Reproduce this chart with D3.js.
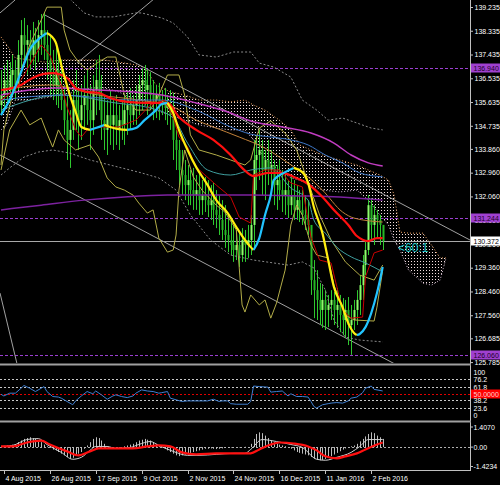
<!DOCTYPE html>
<html>
<head>
<meta charset="utf-8">
<script src="https://cdn.jsdelivr.net/npm/d3@7"></script>
<style>
  body { margin: 0; background: #000; }
  svg { display: block; }
  text { font-family: "Liberation Sans", Arial, sans-serif; }
</style>
</head>
<body>
<div id="chart"></div>
<script>
// daily bars (index 0 = 3 Aug 2015)
var barOpen0 = 135.52;
var barHigh = [
  136.85,137.04,137.23,137.15,137.42,137.23,137.98,138.74,138.82,138.55,
  138.36,138.67,138.44,138.74,138.97,139.01,138.36,138.17,137.61,137.80,
  137.42,137.23,136.28,135.90,135.33,136.47,136.85,136.09,136.28,136.66,
  136.85,136.28,136.66,137.23,137.42,136.66,135.90,135.71,136.09,135.71,
  135.90,135.52,135.71,135.90,136.09,136.17,135.90,136.28,136.66,136.92,
  137.04,136.85,136.77,136.47,136.28,136.36,136.09,136.17,135.90,136.09,
  135.98,134.58,134.20,133.82,133.44,133.25,133.06,133.14,132.87,132.98,
  132.68,132.80,132.68,132.49,132.57,132.30,132.11,131.92,131.73,131.36,
  131.17,130.98,130.79,130.71,130.86,130.79,130.98,131.36,134.20,134.39,
  134.58,134.20,133.82,134.20,133.82,133.44,133.25,133.44,133.06,132.87,
  132.68,132.87,132.68,132.49,132.30,132.30,132.11,131.92,130.60,129.65,
  129.27,128.78,128.70,128.51,128.33,128.51,128.44,128.59,128.33,128.21,
  128.14,128.25,127.95,128.14,128.51,129.08,129.84,130.41,132.11,132.00,
  131.73,131.55,131.36,130.98
];
var barLow = [
  135.14,135.33,135.52,135.71,135.90,135.71,136.09,136.85,137.23,136.66,
  136.85,137.04,136.85,137.15,137.42,137.23,136.47,135.90,135.71,135.52,
  135.41,135.33,134.39,133.44,133.14,134.20,134.58,133.82,134.20,134.58,
  134.77,133.82,134.39,135.14,135.33,134.20,133.82,133.63,134.01,133.82,
  134.01,133.82,134.20,134.01,134.39,134.58,134.77,134.77,135.14,135.33,
  135.52,135.14,135.33,134.95,135.03,134.95,135.14,134.95,134.77,134.58,
  133.44,133.06,132.49,132.11,131.92,131.73,131.73,131.55,131.55,131.36,
  131.36,131.47,131.28,131.17,130.98,130.86,130.60,130.41,130.11,129.95,
  129.84,129.58,129.65,129.39,129.58,129.58,129.73,129.84,130.03,132.30,
  132.68,132.11,131.92,132.49,132.11,131.73,131.55,131.92,131.47,131.36,
  131.24,131.36,131.17,131.17,131.09,130.98,130.79,130.60,128.33,127.45,
  127.38,127.19,127.08,127.00,127.11,127.38,127.19,127.08,126.92,126.81,
  126.70,126.43,126.06,127.00,127.19,127.57,128.14,129.08,129.84,130.41,
  130.22,130.48,130.22,130.03
];
var barClose = [
  135.90,136.47,136.09,136.66,136.85,136.28,137.42,138.17,137.80,137.98,
  137.42,137.98,137.61,138.17,138.36,137.80,137.23,136.66,136.28,136.85,
  136.09,135.71,134.95,134.20,134.58,135.71,135.33,134.95,135.52,135.90,
  135.33,134.95,136.09,136.47,135.90,134.95,134.58,135.14,134.77,135.14,
  134.58,134.95,134.77,135.33,135.52,135.14,135.52,135.71,136.28,136.47,
  136.09,136.28,135.90,135.71,135.90,135.52,135.71,135.41,135.52,135.14,
  134.20,133.82,133.06,132.87,132.49,132.68,132.30,132.11,132.30,131.92,
  132.11,131.92,131.73,131.92,131.55,131.36,131.17,130.79,130.60,130.41,
  130.22,130.03,130.22,129.84,130.41,130.22,130.41,130.98,133.44,133.63,
  133.82,133.06,133.44,133.06,133.25,132.49,132.68,132.30,132.11,132.30,
  131.73,132.11,131.55,131.92,131.55,131.36,131.17,130.98,128.89,128.51,
  128.14,127.76,128.14,127.76,127.95,128.14,127.76,127.95,127.57,127.38,
  127.76,127.19,127.38,127.76,128.14,128.70,129.46,130.03,131.73,130.98,
  131.36,131.17,130.98,130.37
];

// fast colour-changing average [bar, price]
var hmaPts = [[0,135.14],[3,135.71],[7,136.77],[10,137.61],[14,138.10],[16,138.25],[19,137.91],[21,137.04],
  [24,135.90],[26,135.26],[28,134.69],[31,134.58],[33,134.65],[36,134.77],[38,134.69],[41,134.61],[44,134.58],
  [47,134.65],[50,134.95],[54,135.33],[56,135.56],[58,135.60],[60,135.22],[62,134.58],[65,133.82],[68,133.17],
  [72,132.49],[75,131.92],[79,131.43],[82,130.90],[85,130.41],[87,130.14],[88,130.03],[90,130.48],[92,131.36],
  [94,132.11],[95,132.68],[99,132.98],[102,133.14],[105,132.98],[107,132.57],[109,131.66],[112,130.67],
  [114,129.65],[116,128.63],[119,127.87],[121,127.26],[123,126.89],[124,126.81],[125,126.85],[127,127.11],
  [129,127.64],[131,128.40],[133,129.39]];
var maRed = [[0,136.09],[7,136.28],[11,136.55],[15,136.70],[18,136.73],[23,136.55],[26,136.17],[30,136.02],
  [34,135.98],[38,135.79],[44,135.64],[51,135.60],[58,135.60],[62,135.07],[68,134.58],[74,134.20],[80,133.63],
  [84,133.14],[88,132.83],[93,132.95],[98,132.95],[102,132.80],[107,132.53],[112,132.04],[116,131.55],
  [121,130.98],[124,130.56],[128,130.37],[131,130.48],[133,130.48]];
var kijunRed = [[0,135.71],[5,136.09],[8,136.66],[12,137.42],[14,137.80],[17,137.42],[21,136.28],[23,135.45],
  [26,134.58],[28,134.31],[30,134.58],[34,134.69],[41,134.69],[47,134.95],[52,135.52],[57,135.71],[60,135.07],
  [62,134.31],[65,133.93],[68,133.17],[75,132.49],[80,132.04],[83,131.28],[87,131.05],[88,132.87],[92,133.06],
  [97,133.06],[101,132.57],[105,132.42],[108,130.52],[111,129.65],[115,129.54],[119,127.76],[122,127.45],
  [126,127.49],[127,129.01],[130,129.92],[133,130.03]];
var maMagenta = [[0,135.90],[10,136.09],[19,136.17],[34,136.09],[46,136.02],[56,135.90],[68,135.60],[80,135.22],
  [87,134.92],[98,134.69],[108,134.46],[116,134.08],[122,133.63],[128,133.33],[133,133.21]];
var maPurple = [[0,131.55],[14,131.73],[29,131.92],[43,132.04],[58,132.11],[87,132.11],[104,132.08],[118,132.04],[133,131.92]];
var maBlue = [[0,135.71],[21,135.90],[45,135.71],[56,135.71],[68,135.33],[80,134.69],[87,134.42],[94,134.31],
  [101,134.20],[107,134.01],[113,133.63],[119,133.33],[125,132.95],[133,132.80]];
var maBrown = [[0,136.09],[17,136.28],[34,135.90],[48,135.71],[60,135.45],[68,134.95],[74,134.69],[83,134.31],
  [92,133.89],[100,133.33],[107,132.80],[112,132.30],[119,131.47],[123,131.24],[133,131.09]];
var maTeal = [[0,135.33],[21,135.90],[40,135.60],[52,135.41],[60,135.03],[65,134.08],[72,133.06],[80,132.87],
  [87,133.06],[94,133.14],[101,132.38],[107,131.92],[109,131.17],[113,130.67],[117,130.14],[122,129.77],
  [127,129.54],[133,129.20]];
var bandUpper = [[0,133.25],[1,134.58],[4,135.90],[7,136.85],[10,137.80],[14,138.74],[16,139.23],[21,139.23],
  [22,138.36],[24,137.61],[27,137.15],[30,136.85],[34,137.15],[37,137.34],[40,137.34],[41,136.85],[43,135.90],
  [47,135.33],[52,135.33],[55,135.90],[58,136.66],[62,136.66],[64,135.90],[66,134.39],[69,133.82],[75,133.63],
  [80,133.44],[85,133.25],[87,133.44],[90,134.65],[94,134.92],[99,134.46],[103,133.82],[108,132.30],
  [111,131.36],[115,130.41],[120,129.58],[125,129.08],[130,128.89],[133,129.46]];
var bandLower = [[0,133.06],[3,134.58],[7,135.33],[10,134.77],[14,135.03],[16,134.46],[18,133.93],[20,134.58],
  [22,134.20],[26,133.82],[31,134.01],[34,133.55],[37,132.76],[40,132.42],[43,132.30],[46,132.11],[48,131.81],
  [51,131.43],[53,131.55],[55,130.48],[58,129.95],[60,130.03],[61,130.60],[62,132.30],[64,133.82],[67,132.80],
  [70,132.30],[75,131.73],[78,131.47],[82,130.79],[84,127.95],[85,127.68],[87,128.33],[90,127.95],[92,128.14],
  [94,127.45],[96,128.02],[99,129.27],[101,130.98],[103,131.73],[105,131.36],[108,130.22],[110,129.84],
  [114,129.73],[116,128.70],[120,127.57],[123,127.38],[130,127.34],[131,127.87],[133,129.27]];
var envUpper = [[19,140.07],[29,139.01],[33,138.86],[39,138.86],[47,139.01],[49,139.01],[56,138.82],[60,138.63],
  [65,138.10],[69,137.42],[75,137.34],[81,137.53],[87,137.53],[90,137.11],[95,136.96],[101,136.58],[105,135.71],
  [110,135.33],[114,134.95],[119,135.03],[124,134.84],[129,134.65],[133,134.58]];
var envLower = [[0,132.87],[3,133.14],[8,133.55],[13,133.74],[18,133.82],[24,133.70],[31,133.44],[38,133.25],
  [45,133.06],[49,132.95],[55,132.76],[61,132.30],[66,131.36],[73,130.41],[80,129.84],[88,129.65],[95,129.54],
  [100,129.46],[105,129.58],[109,129.35],[113,128.52],[116,127.38],[120,126.73],[125,126.62],[133,126.55]];

// ichimoku cloud
var cloudBar = [0,2,5,10,15,21,26,31,36,41,47,50,54,59,64,69,75,80,85,88,92,97,101,104,108,112,118,124,128,132,135,137,139,142,147,150,153,155];
var cloudTop = [138.10,137.80,137.30,137.23,137.15,137.23,137.23,137.23,137.23,137.15,137.04,136.96,136.28,136.02,135.90,
  135.71,135.71,135.64,135.71,135.52,135.33,134.95,134.58,134.01,133.82,133.63,133.44,133.25,133.06,132.87,132.68,
  132.11,130.71,130.67,130.67,130.22,129.73,129.73];
var cloudBot = [134.58,134.77,135.71,135.71,135.79,135.90,136.02,136.17,136.17,136.02,135.71,135.52,135.33,135.14,134.95,
  134.77,134.65,134.58,134.58,134.20,133.44,133.06,132.76,132.68,132.49,132.30,132.23,132.30,131.92,131.36,130.98,
  130.41,130.03,129.27,128.78,128.70,128.89,129.70];

// trend lines [bar1, price1, bar2, price2]
var trendLines = [[15.3,138.93,163.4,130.41],[-0.35,133.63,137.3,125.71],[-0.35,139.01,4.9,139.50],
  [26.5,137.11,55.4,139.73],[-0.35,128.40,5.6,125.71]];

var priceTicks = [139.235,138.335,137.435,136.535,135.635,134.735,133.860,132.960,132.060,131.160,130.260,129.360,128.460,127.560,126.685,125.785];
var markLevels = [136.940, 131.244, 126.060];
var lastPrice = 130.372;

var rsiPts = [[0,49],[1,46],[3,51],[5,51],[7,60],[8,65],[10,60],[12,54],[14,60],[15,63],[16,54],[18,45],[20,44],
  [21,42],[23,36],[25,30],[26,37],[28,46],[30,54],[32,50],[33,55],[35,48],[37,40],[39,46],[40,48],[42,45],[44,43],
  [46,46],[47,51],[49,57],[51,55],[53,54],[55,51],[56,52],[58,54],[59,42],[61,39],[63,36],[65,37],[67,37],[69,37],
  [72,37],[74,40],[76,36],[77,37],[79,37],[80,32],[82,31],[84,31],[86,31],[87,36],[88,64],[90,63],[93,62],[94,53],
  [96,54],[98,55],[100,46],[101,50],[103,45],[105,45],[107,44],[108,36],[109,27],[110,24],[112,30],[114,32],
  [115,33],[117,34],[119,33],[121,37],[122,42],[124,44],[126,52],[127,60],[129,64],[130,58],[133,55]];
var rsiLevels = [76.2, 61.8, 38.2, 23.6];
var rsiLabels = ["100", "76.2", "61.8", "50.0000", "38.2", "23.6", "0"];
var rsiLabelVals = [100, 76.2, 61.8, 50, 38.2, 23.6, 0];

var oscHist = [0.05,0.08,0.1,0.12,0.15,0.18,
  0.3,0.4,0.5,0.55,0.6,0.55,0.5,0.4,0.3,
  0.15,0.05,-0.05,-0.15,-0.2,-0.3,
  -0.4,-0.5,-0.6,-0.7,-0.65,-0.5,-0.4,-0.3,
  -0.1,0.1,0.3,0.5,0.6,0.55,0.4,
  0.2,0.05,-0.05,-0.1,-0.08,-0.05,0,0.05,0.1,0.15,
  0.2,0.3,0.4,0.45,0.5,0.45,0.4,0.3,0.2,
  0.1,0,-0.1,-0.2,-0.3,-0.4,-0.5,-0.55,
  -0.5,-0.45,-0.4,-0.35,-0.3,-0.25,-0.2,-0.15,
  -0.1,-0.1,-0.08,-0.1,-0.12,-0.1,-0.08,-0.05,-0.05,-0.03,0,0,-0.02,0,0.02,0,
  0.2,0.5,0.8,0.9,0.85,0.7,0.55,0.4,0.3,
  0.2,0.15,0.1,0.05,0,-0.1,-0.2,-0.3,-0.35,
  -0.4,-0.45,-0.5,-0.6,-0.7,-0.75,-0.8,-0.78,-0.72,-0.65,
  -0.55,-0.45,-0.35,-0.25,-0.15,-0.08,0,0.05,
  0.1,0.2,0.35,0.5,0.65,0.8,0.9,0.85,0.7,0.6,0.5];
var oscMain = [[0,0.04],[4,0.10],[9,0.46],[13,0.52],[16,0.16],[21,-0.32],[25,-0.74],[28,-0.62],[31,-0.20],[33,0.04],
  [37,0.04],[40,-0.08],[45,-0.02],[48,0.16],[52,0.34],[55,0.10],[60,-0.26],[65,-0.50],[69,-0.50],[75,-0.44],
  [81,-0.38],[85,-0.38],[87,-0.14],[91,0.46],[96,0.34],[101,0.16],[105,-0.02],[110,-0.74],[113,-0.80],
  [117,-0.62],[122,-0.32],[125,0.04],[128,0.46],[133,0.46]];
var oscSignal = [[0,0.04],[4,0.04],[9,0.28],[14,0.40],[17,0.16],[23,-0.26],[27,-0.50],[31,-0.26],[34,-0.08],
  [39,-0.08],[46,-0.08],[51,0.04],[55,0.10],[59,0.04],[63,-0.32],[68,-0.44],[75,-0.38],[81,-0.38],[87,-0.38],
  [90,-0.14],[94,0.16],[97,0.28],[102,0.22],[107,0.04],[110,-0.20],[113,-0.56],[117,-0.68],[120,-0.56],
  [124,-0.38],[127,-0.14],[131,0.16],[133,0.28]];
var oscLabels = ["1.4070", "0.00", "-1.4234"];

var dateTicks = [1, 17, 33, 49, 65, 81, 97, 113, 129];
var dateLabels = ["4 Aug 2015", "26 Aug 2015", "17 Sep 2015", "9 Oct 2015", "2 Nov 2015", "24 Nov 2015", "16 Dec 2015", "11 Jan 2016", "2 Feb 2016"];

var W = 500, H = 485, right = 470, fs = 7;

var x = d3.scaleLinear().domain([0, 133]).range([1, 1 + 133 * 2.87]);
var y = d3.scaleLinear().domain([125.785, 139.235]).range([362.1, 7]);
var yRsi = d3.scaleLinear().domain([0, 100]).range([421.3, 366.2]);
var yOsc = d3.scaleLinear().domain([-1.4234, 1.4070]).range([470.5, 424]);

var svg = d3.select("#chart").append("svg").attr("width", W).attr("height", H);
svg.append("rect").attr("width", W).attr("height", H).attr("fill", "#000");

var defs = svg.append("defs");
defs.append("clipPath").attr("id", "clipMain").append("rect").attr("width", right).attr("height", 363);
defs.append("clipPath").attr("id", "clipRsi").append("rect").attr("y", 366).attr("width", right).attr("height", 55);
defs.append("clipPath").attr("id", "clipOsc").append("rect").attr("y", 423).attr("width", right).attr("height", 47);
var pat = defs.append("pattern").attr("id", "dots").attr("patternUnits", "userSpaceOnUse").attr("width", 3).attr("height", 3);
pat.append("rect").attr("width", 1).attr("height", 1).attr("fill", "#f2dede");

var main = svg.append("g").attr("clip-path", "url(#clipMain)");

// cloud
var cloud = cloudBar.map(function(b, k){ return {b: b, a: cloudTop[k], z: cloudBot[k]}; });
main.append("path").datum(cloud)
  .attr("d", d3.area().x(function(d){ return x(d.b); }).y0(function(d){ return y(d.z); }).y1(function(d){ return y(d.a); }))
  .attr("fill", "url(#dots)");
main.append("path").datum(cloud)
  .attr("d", d3.line().x(function(d){ return x(d.b); }).y(function(d){ return y(d.a); }))
  .attr("fill", "none").attr("stroke", "#f4a460").attr("stroke-dasharray", "1,2");
main.append("path").datum(cloud)
  .attr("d", d3.line().x(function(d){ return x(d.b); }).y(function(d){ return y(d.z); }))
  .attr("fill", "none").attr("stroke", "#d8bfd8").attr("stroke-dasharray", "1,2");

// levels
main.selectAll(".mark").data(markLevels).enter().append("line")
  .attr("x1", 0).attr("x2", right)
  .attr("y1", function(d){ return Math.round(y(d)) + 0.5; }).attr("y2", function(d){ return Math.round(y(d)) + 0.5; })
  .attr("stroke", "#9b3fd0").attr("stroke-dasharray", "3,2");
main.append("line").attr("x1", 0).attr("x2", right)
  .attr("y1", Math.round(y(lastPrice)) + 0.5).attr("y2", Math.round(y(lastPrice)) + 0.5)
  .attr("stroke", "#a8a8a8");

// trend lines
main.selectAll(".trend").data(trendLines).enter().append("line")
  .attr("x1", function(d){ return x(d[0]); }).attr("y1", function(d){ return y(d[1]); })
  .attr("x2", function(d){ return x(d[2]); }).attr("y2", function(d){ return y(d[3]); })
  .attr("stroke", "#a0a0a0").attr("stroke-width", 1);

// bars
var bars = barClose.map(function(c, i){
  return {i: i, o: i ? barClose[i - 1] : barOpen0, h: barHigh[i], l: barLow[i], c: c};
});
main.selectAll(".wick").data(bars).enter().append("line")
  .attr("x1", function(d){ return Math.round(x(d.i)) + 0.5; }).attr("x2", function(d){ return Math.round(x(d.i)) + 0.5; })
  .attr("y1", function(d){ return y(d.h); }).attr("y2", function(d){ return y(d.l); })
  .attr("stroke", "#2fc82f");
main.selectAll(".body").data(bars).enter().append("rect")
  .attr("x", function(d){ return Math.round(x(d.i)) - 0.5; })
  .attr("width", 2)
  .attr("y", function(d){ return y(Math.max(d.o, d.c)); })
  .attr("height", function(d){ return Math.max(1, Math.abs(y(d.o) - y(d.c))); })
  .attr("fill", function(d){ return d.c >= d.o ? "#8cff6a" : "#26b826"; });

function drawLine(g, pts, sc, color, width, curve, dash) {
  g.append("path").datum(pts)
    .attr("d", d3.line().x(function(d){ return x(d[0]); }).y(function(d){ return sc(d[1]); }).curve(curve || d3.curveLinear))
    .attr("fill", "none").attr("stroke", color).attr("stroke-width", width)
    .attr("stroke-dasharray", dash || null);
}

drawLine(main, envUpper, y, "#8a8a8a", 1, d3.curveLinear, "2,2");
drawLine(main, envLower, y, "#8a8a8a", 1, d3.curveLinear, "2,2");
drawLine(main, bandUpper, y, "#b3ad48", 1);
drawLine(main, bandLower, y, "#b3ad48", 1);
drawLine(main, maTeal, y, "#3f9f9f", 1, d3.curveMonotoneX);
drawLine(main, maBrown, y, "#c0803a", 1, d3.curveMonotoneX);
drawLine(main, maBlue, y, "#3f78c8", 1, d3.curveMonotoneX);
drawLine(main, maMagenta, y, "#c03cc0", 1.5, d3.curveMonotoneX);
drawLine(main, maPurple, y, "#7d22a0", 1.5, d3.curveMonotoneX);
drawLine(main, kijunRed, y, "#c80000", 1);
drawLine(main, maRed, y, "#ff1010", 2.2, d3.curveMonotoneX);

// colour-changing average: cyan rising, yellow falling
var runs = [];
for (var k = 1; k < hmaPts.length; k++) {
  var up = hmaPts[k][1] >= hmaPts[k - 1][1];
  var last = runs[runs.length - 1];
  if (last && last.up === up) last.pts.push(hmaPts[k]);
  else runs.push({up: up, pts: [hmaPts[k - 1], hmaPts[k]]});
}
runs.forEach(function(r){
  drawLine(main, r.pts, y, r.up ? "#22c4ff" : "#ffee10", 2.2, d3.curveMonotoneX);
});

main.append("text").attr("x", 398).attr("y", 251.5).attr("font-size", 12)
  .attr("fill", "#22c8c8").text("<60:1");

// rsi panel
var rsiG = svg.append("g").attr("clip-path", "url(#clipRsi)");
rsiG.selectAll(".lvl").data(rsiLevels).enter().append("line")
  .attr("x1", 0).attr("x2", right)
  .attr("y1", function(d){ return Math.round(yRsi(d)) + 0.5; }).attr("y2", function(d){ return Math.round(yRsi(d)) + 0.5; })
  .attr("stroke", "#c8c8c8").attr("stroke-dasharray", "2,2");
rsiG.append("line").attr("x1", 0).attr("x2", right)
  .attr("y1", Math.round(yRsi(50)) + 0.5).attr("y2", Math.round(yRsi(50)) + 0.5)
  .attr("stroke", "#e00000").attr("stroke-dasharray", "2,2");
drawLine(rsiG, rsiPts, yRsi, "#3f7fd0", 1);

// oscillator panel
var oscG = svg.append("g").attr("clip-path", "url(#clipOsc)");
oscG.append("line").attr("x1", 0).attr("x2", right)
  .attr("y1", Math.round(yOsc(0)) + 0.5).attr("y2", Math.round(yOsc(0)) + 0.5)
  .attr("stroke", "#b0b0b0").attr("stroke-dasharray", "2,2");
oscG.selectAll(".hist").data(oscHist).enter().append("line")
  .attr("x1", function(d, i){ return Math.round(x(i)) + 0.5; }).attr("x2", function(d, i){ return Math.round(x(i)) + 0.5; })
  .attr("y1", yOsc(0)).attr("y2", function(d){ return yOsc(d); })
  .attr("stroke", "#bdbdbd");
drawLine(oscG, oscMain, yOsc, "#d0d0d0", 1, d3.curveMonotoneX);
drawLine(oscG, oscSignal, yOsc, "#ff1010", 2.2, d3.curveMonotoneX);

// frame
svg.append("line").attr("x1", right + 0.5).attr("x2", right + 0.5).attr("y1", 0).attr("y2", 471).attr("stroke", "#c0c0c0");
[364.5, 421.5].forEach(function(v){
  svg.append("rect").attr("x", 0).attr("y", v - 1).attr("width", right + 1).attr("height", 2).attr("fill", "#a0a0a0");
});
svg.append("line").attr("x1", 0).attr("x2", right + 1).attr("y1", 470.5).attr("y2", 470.5).attr("stroke", "#c0c0c0");

// price axis
var axis = svg.append("g").attr("transform", "translate(" + (right + 1) + ",0)")
  .call(d3.axisRight(y).tickValues(priceTicks).tickFormat(d3.format(".3f")).tickSize(2).tickPadding(1.5));
axis.select(".domain").remove();
axis.selectAll("line").attr("stroke", "#c0c0c0");
axis.selectAll("text").attr("fill", "#fff").attr("font-size", fs).attr("font-family", "Liberation Sans, Arial, sans-serif");

function tag(v, yy, bg, fg, label) {
  svg.append("rect").attr("x", right + 1).attr("y", Math.round(yy) - 4.5).attr("width", 29).attr("height", 9).attr("fill", bg);
  svg.append("text").attr("x", right + 3.5).attr("y", Math.round(yy) + 2.5).attr("font-size", fs)
    .attr("fill", fg).text(label);
}
markLevels.forEach(function(v){ tag(v, y(v), "#a040d0", "#1a0028", d3.format(".3f")(v)); });
tag(lastPrice, y(lastPrice), "#ffffff", "#000", d3.format(".3f")(lastPrice));

// rsi labels
rsiLabelVals.forEach(function(v, k){
  var yy = Math.min(Math.max(yRsi(v), 372), 415.5);
  if (v === 50) { tag(v, yy, "#ff0000", "#ffd0d0", rsiLabels[k]); return; }
  svg.append("text").attr("x", right + 3.5).attr("y", yy + 2.5).attr("font-size", fs).attr("fill", "#fff").text(rsiLabels[k]);
});

// osc labels
[1.4070, 0, -1.4234].forEach(function(v, k){
  var yy = Math.min(Math.max(yOsc(v), 427), 466.5);
  svg.append("line").attr("x1", right + 1).attr("x2", right + 3).attr("y1", yy).attr("y2", yy).attr("stroke", "#c0c0c0");
  svg.append("text").attr("x", right + 3.5).attr("y", yy + 2.5).attr("font-size", fs).attr("fill", "#fff").text(oscLabels[k]);
});

// date axis
dateTicks.forEach(function(b, k){
  var xx = Math.round(x(b)) + 0.5;
  svg.append("line").attr("x1", xx).attr("x2", xx).attr("y1", 470).attr("y2", 474).attr("stroke", "#c0c0c0");
  svg.append("text").attr("x", xx + 1).attr("y", 481).attr("font-size", fs).attr("fill", "#fff").text(dateLabels[k]);
});
</script>
</body>
</html>
